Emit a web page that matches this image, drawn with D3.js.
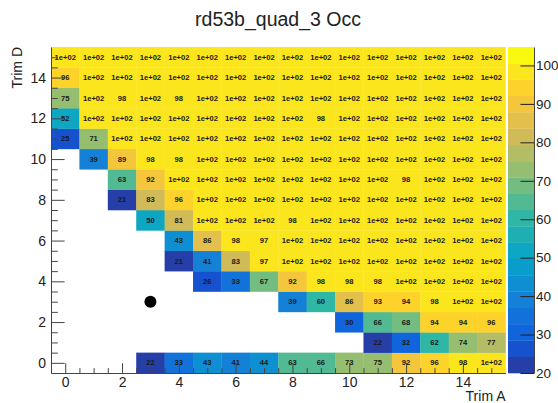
<!DOCTYPE html>
<html>
<head>
<meta charset="utf-8">
<script src="https://cdn.jsdelivr.net/npm/d3@7"></script>
<style>
  body { margin: 0; background: #fff; }
  svg { display: block; font-family: "Liberation Sans", Arial, sans-serif; }
</style>
</head>
<body>
<svg id="chart" width="558" height="403"></svg>
<script>
// Trim A along x, Trim D along y
const trimA = d3.range(16);
const trimD = d3.range(16);

// occupancy per Trim D row (index 0 = bottom row), null = empty bin
const occ = [
  [null, null, null, 22, 33, 43, 41, 44, 63, 66, 73, 75, 92, 96, 98, 100],
  [null, null, null, null, null, null, null, null, null, null, null, 22, 32, 62, 74, 77],
  [null, null, null, null, null, null, null, null, null, null, 30, 66, 68, 94, 94, 96],
  [null, null, null, null, null, null, null, null, 39, 60, 86, 93, 94, 98, 100, 100],
  [null, null, null, null, null, 26, 33, 67, 92, 98, 98, 98, 100, 100, 100, 100],
  [null, null, null, null, 21, 41, 83, 97, 100, 100, 100, 100, 100, 100, 100, 100],
  [null, null, null, null, 43, 86, 98, 97, 100, 100, 100, 100, 100, 100, 100, 100],
  [null, null, null, 50, 81, 100, 100, 100, 98, 100, 100, 100, 100, 100, 100, 100],
  [null, null, 21, 83, 96, 100, 100, 100, 100, 100, 100, 100, 100, 100, 100, 100],
  [null, null, 63, 92, 100, 100, 100, 100, 100, 100, 100, 100, 98, 100, 100, 100],
  [null, 39, 89, 98, 98, 100, 100, 100, 100, 100, 100, 100, 100, 100, 100, 100],
  [25, 71, 100, 100, 100, 100, 100, 100, 100, 100, 100, 100, 100, 100, 100, 100],
  [52, 100, 100, 100, 100, 100, 100, 100, 100, 98, 100, 100, 100, 100, 100, 100],
  [75, 100, 98, 100, 98, 100, 100, 100, 100, 100, 100, 100, 100, 100, 100, 100],
  [96, 100, 100, 100, 100, 100, 100, 100, 100, 100, 100, 100, 100, 100, 100, 100],
  [100, 100, 100, 100, 100, 100, 100, 100, 100, 100, 100, 100, 100, 100, 100, 100]
];

const zRange = [20, 104.8];
const zTicks = [20, 30, 40, 50, 60, 70, 80, 90, 100];
const xMajor = [0, 2, 4, 6, 8, 10, 12, 14];
const yMajor = [0, 2, 4, 6, 8, 10, 12, 14];
const marker = [{ a: 3, d: 3 }];

// kBird palette stops
const stops = [0.0, 0.125, 0.25, 0.375, 0.5, 0.625, 0.75, 0.875, 1.0];
const red   = [0.2082, 0.0592, 0.0780, 0.0232, 0.1802, 0.5301, 0.8186, 0.9956, 0.9764];
const green = [0.1664, 0.3599, 0.5041, 0.6419, 0.7178, 0.7492, 0.7328, 0.7862, 0.9832];
const blue  = [0.5293, 0.8684, 0.8385, 0.7914, 0.6425, 0.4662, 0.3499, 0.1968, 0.0539];
const nColors = 255;
const nContours = 20;

const palette = [];
for (let g = 1; g < stops.length; g++) {
  const n = Math.floor(nColors * stops[g]) - Math.floor(nColors * stops[g - 1]);
  for (let c = 0; c < n; c++) {
    const f = c / n;
    palette.push(d3.rgb(
      255 * (red[g - 1] + f * (red[g] - red[g - 1])),
      255 * (green[g - 1] + f * (green[g] - green[g - 1])),
      255 * (blue[g - 1] + f * (blue[g] - blue[g - 1]))
    ).formatHex());
  }
}

function bandColor(band) {
  const idx = Math.min(nColors - 1, Math.floor((band + 0.99) * nColors / nContours));
  return palette[idx];
}
function zColor(v) {
  const band = Math.min(nContours - 1, Math.floor(0.01 + (v - zRange[0]) * nContours / (zRange[1] - zRange[0])));
  return bandColor(band);
}

// like printf %.2g
function fmt(v) {
  const e = Math.floor(Math.log10(Math.abs(v)));
  if (e >= 2) {
    const m = +(v / Math.pow(10, e)).toPrecision(2);
    return m + "e+" + String(e).padStart(2, "0");
  }
  return String(+v.toPrecision(2));
}

const svg = d3.select("#chart");
const plotL = 51, plotR = 505.5, plotT = 47, plotB = 373;

const x = d3.scaleLinear().domain([-0.5, 15.5]).range([plotL, plotR]);
const y = d3.scaleLinear().domain([-0.5, 15.5]).range([plotB, plotT]);
const z = d3.scaleLinear().domain(zRange).range([plotB, plotT]);

const cells = [];
trimD.forEach(d => trimA.forEach(a => {
  const v = occ[d][a];
  if (v != null) cells.push({ a, d, v });
}));

const cellW = x(0.5) - x(-0.5), cellH = y(-0.5) - y(0.5);

const g = svg.append("g");
g.selectAll("rect.cell")
  .data(cells)
  .join("rect")
  .attr("class", "cell")
  .attr("x", d => x(d.a - 0.5))
  .attr("y", d => y(d.d + 0.5))
  .attr("width", cellW + 0.3)
  .attr("height", cellH + 0.3)
  .attr("fill", d => zColor(d.v));

g.selectAll("text.val")
  .data(cells)
  .join("text")
  .attr("class", "val")
  .attr("x", d => x(d.a))
  .attr("y", d => y(d.d))
  .attr("dy", "0.35em")
  .attr("text-anchor", "middle")
  .attr("font-size", 7.6)
  .attr("font-weight", "bold")
  .attr("fill", "#1a1a1a")
  .text(d => fmt(d.v));

// marker
svg.selectAll("circle.mk")
  .data(marker)
  .join("circle")
  .attr("class", "mk")
  .attr("cx", d => x(d.a))
  .attr("cy", d => y(d.d))
  .attr("r", 6)
  .attr("fill", "#000");

// axes
const xLen = (plotB - plotT) * 0.03, yLen = (plotR - plotL) * 0.03;
const xMinor = d3.range(0, 15.01, 0.5).filter(t => !xMajor.includes(t));
const yMinor = d3.range(0, 15.01, 0.5).filter(t => !yMajor.includes(t));

const xAxis = svg.append("g").attr("transform", `translate(0,${plotB})`);
xAxis.call(d3.axisBottom(x).tickValues(xMajor).tickSize(-xLen).tickSizeOuter(0).tickPadding(4));
xAxis.append("g").call(d3.axisBottom(x).tickValues(xMinor).tickSize(-xLen / 2).tickFormat(() => "").tickSizeOuter(0))
  .select(".domain").remove();

const yAxis = svg.append("g").attr("transform", `translate(${plotL},0)`);
yAxis.call(d3.axisLeft(y).tickValues(yMajor).tickSize(-yLen).tickSizeOuter(0).tickPadding(5));
yAxis.append("g").call(d3.axisLeft(y).tickValues(yMinor).tickSize(-yLen / 2).tickFormat(() => "").tickSizeOuter(0))
  .select(".domain").remove();

svg.selectAll(".tick text").attr("font-size", 14).attr("fill", "#222").attr("font-family", "Liberation Sans, Arial, sans-serif");
svg.selectAll(".domain, .tick line").attr("stroke", "#444");

// colour bar
const barX = 508, barW = 26;
const dz = (zRange[1] - zRange[0]) / nContours;
svg.append("g").selectAll("rect")
  .data(d3.range(nContours))
  .join("rect")
  .attr("x", barX)
  .attr("y", i => z(zRange[0] + (i + 1) * dz))
  .attr("width", barW)
  .attr("height", i => z(zRange[0] + i * dz) - z(zRange[0] + (i + 1) * dz) + 0.3)
  .attr("fill", i => bandColor(i));

const zAxis = svg.append("g").attr("transform", `translate(${barX + barW},0)`);
zAxis.call(d3.axisRight(z).tickValues(zTicks).tickSize(-13.6).tickSizeOuter(0).tickPadding(2));
zAxis.select(".domain").attr("stroke", "#444");
zAxis.selectAll(".tick line").attr("stroke", "#222");
zAxis.selectAll(".tick text").attr("font-size", 13.5).attr("fill", "#222").attr("font-family", "Liberation Sans, Arial, sans-serif");

// titles
svg.append("text")
  .attr("x", 278).attr("y", 26)
  .attr("text-anchor", "middle")
  .attr("font-size", 19.5)
  .attr("fill", "#222")
  .text("rd53b_quad_3 Occ");

svg.append("text")
  .attr("x", plotR).attr("y", 401)
  .attr("text-anchor", "end")
  .attr("font-size", 14)
  .attr("fill", "#222")
  .text("Trim A");

svg.append("text")
  .attr("transform", `translate(22,${plotT}) rotate(-90)`)
  .attr("text-anchor", "end")
  .attr("font-size", 14)
  .attr("fill", "#222")
  .text("Trim D");
</script>
</body>
</html>
